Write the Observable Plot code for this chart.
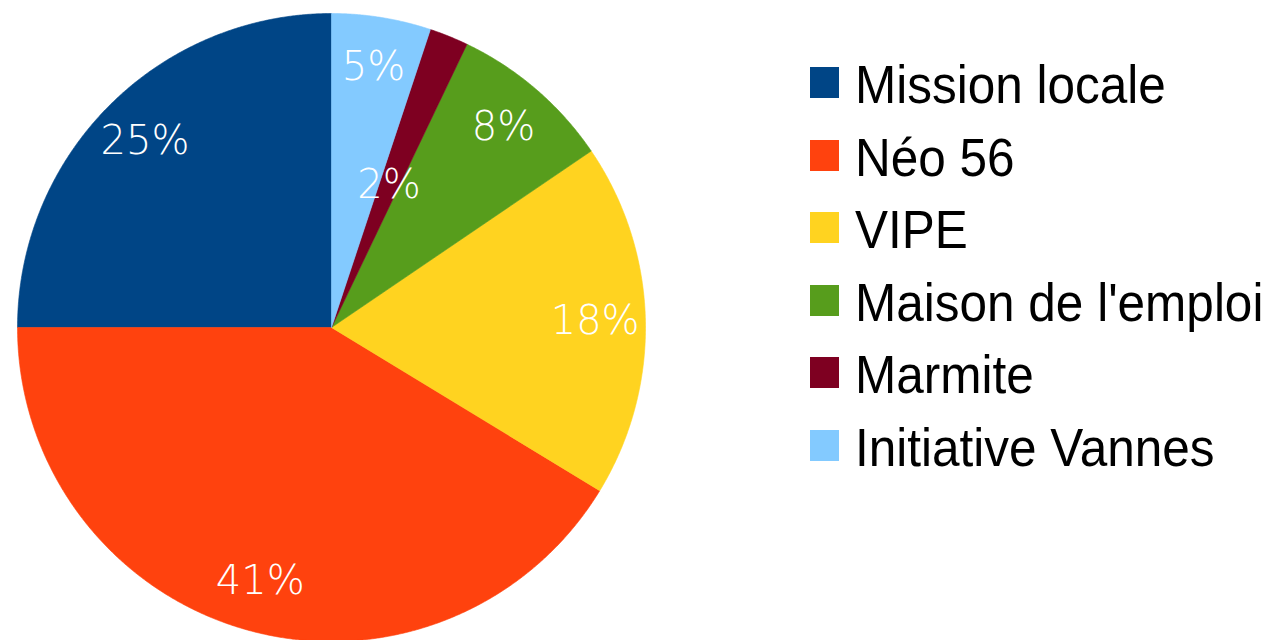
<!DOCTYPE html>
<html>
<head>
<meta charset="utf-8">
<script src="https://cdn.jsdelivr.net/npm/d3@7"></script>
<script src="https://cdn.jsdelivr.net/npm/@observablehq/plot@0.6"></script>
<style>
  html, body { margin: 0; padding: 0; background: #fff; }
  #wrap { position: relative; width: 1268px; height: 640px; overflow: hidden; }
  #chart { position: absolute; left: 0; top: 0; }
  .row { position: absolute; left: 810px; height: 32px; }
  .sw { position: absolute; left: 0; top: 0; width: 29px; height: 31px; }
  .lt { position: absolute; left: 45px; top: -6px; white-space: nowrap;
        font-family: "Liberation Sans", Arial, sans-serif; font-size: 49.5px; line-height: 50px;
        color: #000; transform: scaleY(1.1); transform-origin: 0 42px; }
</style>
</head>
<body>
<div id="wrap"><div id="chart"></div><div id="legend"></div></div>
<script>
const names = ["Mission locale", "Néo 56", "VIPE", "Maison de l'emploi", "Marmite", "Initiative Vannes"];
const values = [25.0, 41.3, 18.2, 8.4, 2.0, 5.1];
const labels = ["25%", "41%", "18%", "8%", "2%", "5%"];
const colors = ["#004586", "#ff420e", "#ffd320", "#579d1c", "#7e0021", "#83caff"];

// slices go counter-clockwise from 12 o'clock
const total = d3.sum(values);
let acc = 0;
const slices = names.map((name, i) => {
  const a0 = acc / total * 2 * Math.PI;
  acc += values[i];
  const a1 = acc / total * 2 * Math.PI;
  return {name, a0, a1, mid: (a0 + a1) / 2, share: values[i] / total, label: labels[i]};
});
const pts = slices.flatMap(s => {
  const n = Math.max(2, Math.ceil((s.a1 - s.a0) / (Math.PI / 720)));
  const arr = [{name: s.name, x: 0, y: 0}];
  for (let k = 0; k <= n; k++) {
    const a = s.a0 + (s.a1 - s.a0) * k / n;
    arr.push({name: s.name, x: -Math.sin(a), y: Math.cos(a)});
  }
  arr.push({name: s.name, x: 0, y: 0});
  return arr;
});
const labelR = s => s.share < 0.03 ? 0.49 : 0.84;

const plot = Plot.plot({
  width: 662, height: 640,
  margin: 0,
  x: {axis: null, domain: [-1, 1], range: [17, 645]},
  y: {axis: null, domain: [-1, 1], range: [641, 13]},
  color: {domain: names, range: colors},
  style: {background: "transparent"},
  marks: [
    Plot.line(pts, {x: "x", y: "y", z: "name", fill: "name", stroke: "name", strokeWidth: 0.6, curve: "linear"}),
    Plot.text(slices, {
      x: s => -Math.sin(s.mid) * labelR(s),
      y: s => Math.cos(s.mid) * labelR(s),
      text: "label",
      fill: "#ffffff",
      fontSize: 40,
      fontFamily: "DejaVu Sans",
      fontWeight: 200,
      textAnchor: "middle"
    })
  ]
});
document.getElementById("chart").appendChild(plot);

const legend = document.getElementById("legend");
names.forEach((n, i) => {
  const row = document.createElement("div");
  row.className = "row";
  row.style.top = (67 + 72.6 * i) + "px";
  const sw = document.createElement("div");
  sw.className = "sw";
  sw.style.background = colors[i];
  const t = document.createElement("span");
  t.className = "lt";
  t.textContent = n;
  row.appendChild(sw);
  row.appendChild(t);
  legend.appendChild(row);
});
</script>
</body>
</html>
